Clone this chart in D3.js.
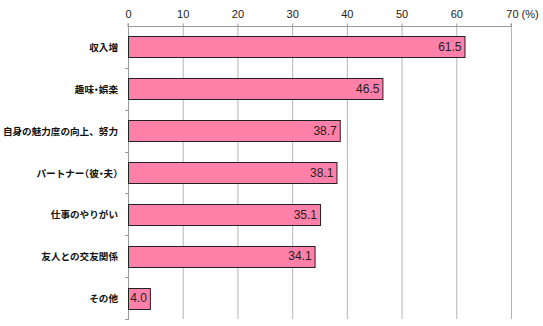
<!DOCTYPE html>
<html><head><meta charset="utf-8">
<script src="https://cdn.jsdelivr.net/npm/d3@7"></script>
<style>body{margin:0;background:#fff}svg{display:block}</style>
</head><body>
<svg id="c" width="543" height="326"></svg>
<script>
const categories = ["収入増","趣味・娯楽","自身の魅力度の向上、努力","パートナー（彼・夫）","仕事のやりがい","友人との交友関係","その他"];
const values = [61.5,46.5,38.7,38.1,35.1,34.1,4.0];
const xTicks = [0,10,20,30,40,50,60,70];

const svg = d3.select("#c");
const x = d3.scaleLinear().domain([0,70]).range([128,511]);
const y = d3.scaleBand().domain(categories).range([26,319]).paddingInner(0.5).paddingOuter(0.25);

// grid
svg.append("g").selectAll("line").data(xTicks.slice(1)).join("line")
  .attr("x1",d=>x(d)+0.5).attr("x2",d=>x(d)+0.5).attr("y1",26).attr("y2",319)
  .attr("stroke","#b4b4b4").attr("stroke-width",1);

// top axis
const topAxis = svg.append("g").attr("transform","translate(0,26.5)")
  .call(d3.axisTop(x).tickValues(xTicks).tickSize(3).tickPadding(6).tickFormat(d=>d===70?"70 (%)":d));
topAxis.select(".domain").attr("stroke","#999").attr("d",`M${x(0)},-3V0H${x(70)}V-3`);
topAxis.selectAll(".tick line").attr("stroke","#999");
topAxis.selectAll(".tick text").attr("font-family","Liberation Sans, Arial, sans-serif").attr("font-size",11).attr("fill","#222")
  .attr("dx",d=>d===70?"11":"0");

// left axis
const step = y.step();
svg.append("line").attr("x1",x(0)+0.5).attr("x2",x(0)+0.5).attr("y1",26).attr("y2",320).attr("stroke","#999");
const sepTicks = d3.range(1,categories.length+1).map(i=>y.range()[0]+i*step);
svg.append("g").selectAll("line").data(sepTicks).join("line")
  .attr("x1",x(0)-3).attr("x2",x(0)).attr("y1",d=>Math.round(d)+0.5).attr("y2",d=>Math.round(d)+0.5).attr("stroke","#999");

// bars
svg.append("g").selectAll("rect").data(values).join("rect")
  .attr("x",x(0)+0.5).attr("y",(d,i)=>Math.round(y(categories[i]))+0.5)
  .attr("width",d=>x(d)-x(0)).attr("height",Math.round(y.bandwidth()))
  .attr("fill","#ff80a8").attr("stroke","#222").attr("stroke-width",1);

// value labels
svg.append("g").selectAll("text").data(values).join("text")
  .attr("x",d=>x(d)-3).attr("y",(d,i)=>y(categories[i])+y.bandwidth()/2+1)
  .attr("text-anchor","end").attr("dominant-baseline","middle")
  .attr("font-family","Liberation Sans, Arial, sans-serif").attr("font-size",12).attr("fill","#222")
  .text(d=>d.toFixed(1));

// category labels
const catText = svg.append("g").selectAll("text").data(categories).join("text")
  .attr("x",118).attr("y",d=>y(d)+y.bandwidth()/2+1)
  .attr("text-anchor","end").attr("dominant-baseline","middle")
  .attr("font-family","Noto Sans CJK JP, sans-serif").attr("font-size",9.6).attr("font-weight","bold").attr("fill","#111");
catText.each(function(d){
  const t = d3.select(this);
  const parts = d.match(/[・（）]|[^・（）]+/g);
  parts.forEach(p=>{
    const ts = t.append("tspan").text(p);
    if (/[・（）]/.test(p)) ts.style("font-feature-settings","'halt'");
  });
});
</script>
</body></html>
